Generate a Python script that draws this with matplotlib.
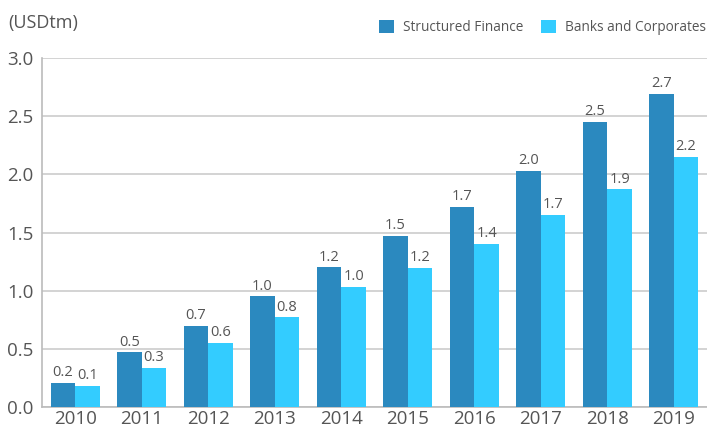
import numpy as np
import matplotlib.pyplot as plt

years = ["2010", "2011", "2012", "2013", "2014", "2015", "2016", "2017", "2018", "2019"]
structured = [0.21, 0.47, 0.70, 0.95, 1.20, 1.47, 1.72, 2.03, 2.45, 2.69]
banks = [0.18, 0.335, 0.55, 0.77, 1.03, 1.195, 1.40, 1.65, 1.87, 2.15]
structured_labels = ["0.2", "0.5", "0.7", "1.0", "1.2", "1.5", "1.7", "2.0", "2.5", "2.7"]
banks_labels = ["0.1", "0.3", "0.6", "0.8", "1.0", "1.2", "1.4", "1.7", "1.9", "2.2"]

c_sf = "#2b89bf"
c_bc = "#33ccff"
txt = "#555555"

plt.rcParams["font.family"] = ["Open Sans", "DejaVu Sans"]

fig = plt.figure(figsize=(7.07, 4.28), dpi=100)
ax = fig.add_axes([42 / 707, 1 - 407 / 428, 665 / 707, 349 / 428])

x = np.arange(len(years))
w = 0.37
b1 = ax.bar(x - w / 2, structured, w, color=c_sf, label="Structured Finance", zorder=3)
b2 = ax.bar(x + w / 2, banks, w, color=c_bc, label="Banks and Corporates", zorder=3)
ax.bar_label(b1, labels=structured_labels, padding=2, color=txt, fontsize=10.5)
ax.bar_label(b2, labels=banks_labels, padding=2, color=txt, fontsize=10.5)

ax.set_xlim(-0.5, len(years) - 0.5)
ax.set_ylim(0, 3.0)
ax.set_yticks(np.arange(0, 3.01, 0.5))
ax.set_yticklabels([f"{v:.1f}" for v in np.arange(0, 3.01, 0.5)])
ax.set_xticks(x)
ax.set_xticklabels(years)
ax.tick_params(axis="both", length=0, labelsize=13.5, colors=txt)
ax.tick_params(axis="y", pad=6)
ax.tick_params(axis="x", pad=2)
ax.grid(axis="y", color="#cccccc", lw=1.2, zorder=0)
for s in ["top", "right"]:
    ax.spines[s].set_visible(False)
ax.spines["left"].set_color("#bbbbbb")
ax.spines["bottom"].set_color("#bbbbbb")
ax.spines["left"].set_linewidth(1.2)
ax.spines["bottom"].set_linewidth(1.2)

fig.text(8 / 707, 1 - 23 / 428, "(USDtm)", fontsize=13, color=txt, va="center")

leg = ax.legend(loc="upper right", bbox_to_anchor=(1.006, 1.125), ncol=2, frameon=False,
                fontsize=9.8, handlelength=1.15, handleheight=1.15, columnspacing=1.3,
                handletextpad=0.6, borderaxespad=0)
for t in leg.get_texts():
    t.set_color(txt)

fig.savefig("out.png", dpi=100)
